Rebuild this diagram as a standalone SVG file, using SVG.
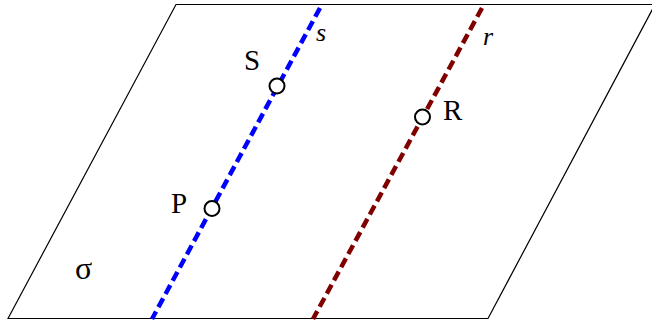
<svg xmlns="http://www.w3.org/2000/svg" width="652" height="322" viewBox="0 0 652 322">
<style>
.plane{fill:none;stroke:#000;stroke-width:1.2}
.line{fill:none;stroke-width:4.5;stroke-dasharray:10 5}
.pt{fill:#fff;stroke:#000;stroke-width:2}
.lbl{font-family:"Liberation Serif","Times New Roman",serif;font-size:29px;fill:#000}
.it{font-family:"Liberation Serif","Times New Roman",serif;font-style:italic;font-size:26px;fill:#000}
</style>
<rect width="652" height="322" fill="#fff"/>
<g id="plane">
<polygon class="plane" points="8,318.5 176,4.5 655,4.5 488,318.5"/>
<text class="lbl" x="75" y="279" style="font-size:32px">σ</text>
</g>
<g id="connectors">
<line id="line-s" class="line" stroke="#0000ff" x1="320" y1="8" x2="152" y2="319"/>
<line id="line-r" class="line" stroke="#800000" x1="482" y1="8" x2="313" y2="319"/>
</g>
<g id="label-s"><text class="it" x="316" y="41">s</text></g>
<g id="label-r"><text class="it" x="483" y="45">r</text></g>
<g id="node-S">
<circle class="pt" cx="277" cy="86" r="7.5"/>
<text class="lbl" x="244" y="70">S</text>
</g>
<g id="node-P">
<circle class="pt" cx="212" cy="208.5" r="7.5"/>
<text class="lbl" x="171" y="213">P</text>
</g>
<g id="node-R">
<circle class="pt" cx="422.5" cy="117" r="7.5"/>
<text class="lbl" x="443" y="120">R</text>
</g>
</svg>
